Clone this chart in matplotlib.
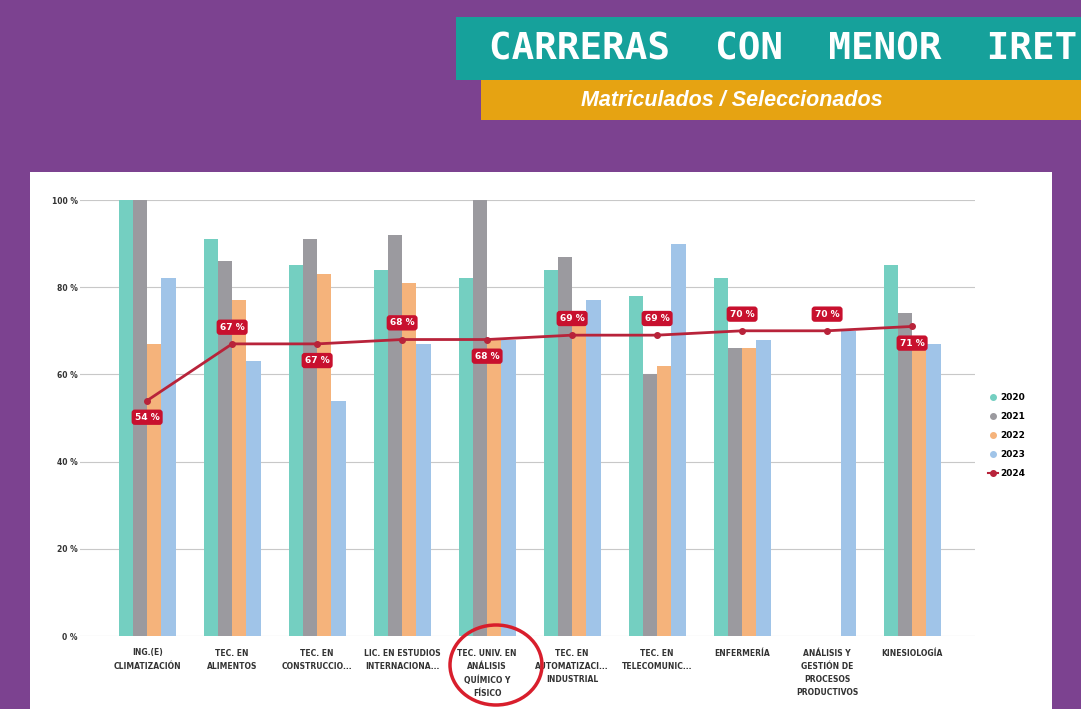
import numpy as np
import matplotlib
matplotlib.use("Agg")
import matplotlib.pyplot as plt
from matplotlib.lines import Line2D
from matplotlib.patches import Rectangle, Ellipse

# data (% matriculados / seleccionados)
carreras = ["ING.(E)\nCLIMATIZACIÓN", "TEC. EN\nALIMENTOS", "TEC. EN\nCONSTRUCCIO...",
            "LIC. EN ESTUDIOS\nINTERNACIONA...", "TEC. UNIV. EN\nANÁLISIS\nQUÍMICO Y\nFÍSICO",
            "TEC. EN\nAUTOMATIZACI...\nINDUSTRIAL", "TEC. EN\nTELECOMUNIC...", "ENFERMERÍA",
            "ANÁLISIS Y\nGESTIÓN DE\nPROCESOS\nPRODUCTIVOS", "KINESIOLOGÍA"]
v2020 = [100, 91, 85, 84, 82, 84, 78, 82, np.nan, 85]
v2021 = [100, 86, 91, 92, 100, 87, 60, 66, np.nan, 74]
v2022 = [67, 77, 83, 81, 68, 71, 62, 66, np.nan, 68]
v2023 = [82, 63, 54, 67, 68, 77, 90, 68, 70, 67]
v2024 = [54, 67, 67, 68, 68, 69, 69, 70, 70, 71]
y_ticks = [0, 20, 40, 60, 80, 100]

title = "CARRERAS  CON  MENOR  IRET"
subtitle = "Matriculados / Seleccionados"

# colours
purple = "#7C4290"
teal_banner = "#16A19B"
orange_banner = "#E6A312"
c_bars = ["#74CFC1", "#9B9A9F", "#F5B37B", "#A0C4E8"]
c_line = "#B8233A"
c_label = "#C8102E"

W, H = 1081, 709
fig = plt.figure(figsize=(W / 100, H / 100), dpi=100)
fig.patch.set_facecolor(purple)

# white panel + banners (figure pixel coords -> fraction)
def px(x0, y0, x1, y1):
    return (x0 / W, 1 - y1 / H, (x1 - x0) / W, (y1 - y0) / H)

x, y, w, h = px(30, 172, 1052, 709)
fig.patches.append(Rectangle((x, y), w, h, transform=fig.transFigure, fc="white", ec="none", zorder=0))
x, y, w, h = px(456, 17, 1081, 80)
fig.patches.append(Rectangle((x, y), w, h, transform=fig.transFigure, fc=teal_banner, ec="none", zorder=1))
x, y, w, h = px(481, 80, 1081, 120)
fig.patches.append(Rectangle((x, y), w, h, transform=fig.transFigure, fc=orange_banner, ec="none", zorder=1))

fig.text(1077 / W, 1 - 49 / H, title, ha="right", va="center", color="white",
         fontsize=27, fontweight="bold", family="DejaVu Sans Mono", zorder=2)
fig.text(732 / W, 1 - 101 / H, subtitle, ha="center", va="center", color="white",
         fontsize=15.5, fontweight="bold", style="italic", family="Liberation Sans", zorder=2)

# main axes
ax = fig.add_axes([80 / W, 1 - 636 / H, (975 - 80) / W, (636 - 200) / H])
ax.set_zorder(3)
ax.set_facecolor("none")
xs = np.arange(len(carreras))
bw = 0.168
series = [v2020, v2021, v2022, v2023]
for i, vals in enumerate(series):
    ax.bar(xs + (i - 1.5) * bw, vals, width=bw, color=c_bars[i], zorder=2)

ax.plot(xs, v2024, color=c_line, lw=2, marker="o", ms=4, zorder=3)

# value labels on the 2024 line (above / below the point)
label_above = [False, True, False, True, False, True, True, True, True, False]
for xi, val, up in zip(xs, v2024, label_above):
    ax.annotate("{} %".format(val), (xi, val), xytext=(0, 12 if up else -12),
                textcoords="offset points", ha="center", va="center",
                color="white", fontsize=6.5, fontweight="bold", zorder=5,
                bbox=dict(boxstyle="round,pad=0.35", fc=c_label, ec="none"))

ax.set_xlim(-0.79, 9.74)
ax.set_ylim(0, 100)
ax.set_yticks(y_ticks)
ax.set_yticklabels(["{} %".format(t) for t in y_ticks], fontsize=5.5, fontweight="bold", color="#333333")
ax.set_xticks(xs)
ax.set_xticklabels(carreras, fontsize=5.5, fontweight="bold", color="#333333", linespacing=1.6)
ax.tick_params(length=0)
ax.tick_params(axis="y", pad=1.5)
ax.tick_params(axis="x", pad=9)
ax.grid(axis="y", color="#C8C8C8", lw=0.8, zorder=0)
for s in ax.spines.values():
    s.set_visible(False)

# legend
handles = [Line2D([], [], ls="none", marker="o", ms=4, color=c) for c in c_bars]
handles.append(Line2D([], [], color=c_line, lw=1.5, marker="o", ms=4))
leg = ax.legend(handles, ["2020", "2021", "2022", "2023", "2024"], loc="upper left",
                bbox_to_anchor=(1.005, 0.575), frameon=False, handlelength=1.2,
                handletextpad=0.2, labelspacing=1.1, prop=dict(size=6.5, weight="bold"))

# red circle around the highlighted career
x0, y0 = 496 / W, 1 - 665 / H
fig.patches.append(Ellipse((x0, y0), 92 / W, 80 / H, transform=fig.transFigure,
                           fc="none", ec="#D81E2C", lw=2.5, zorder=6))

fig.savefig("out.png", dpi=100, facecolor=fig.get_facecolor())
